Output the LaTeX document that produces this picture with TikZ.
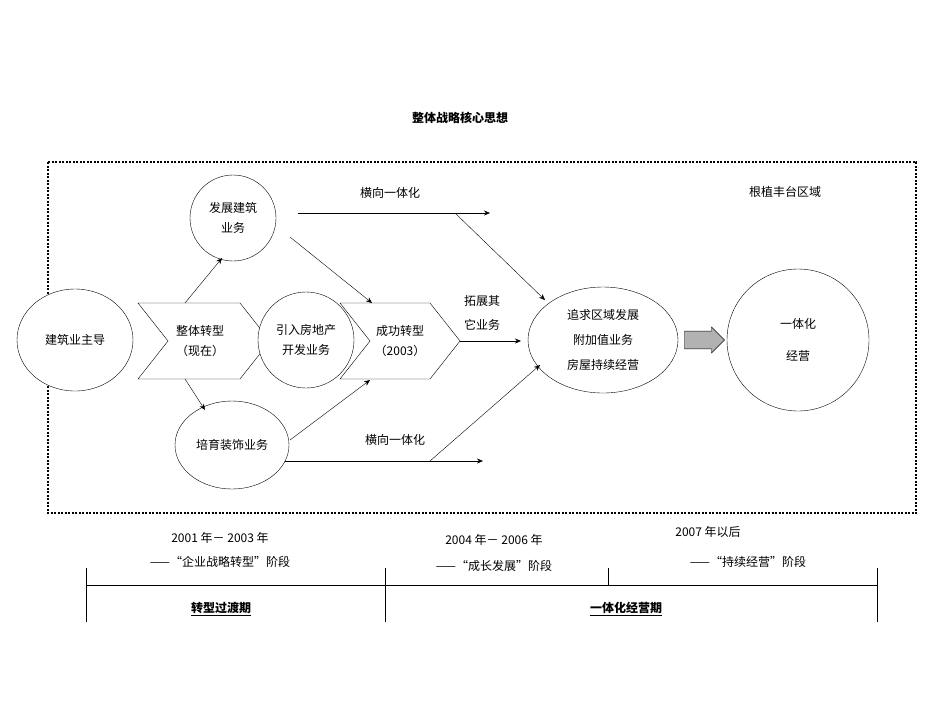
\documentclass[tikz,border=0pt]{standalone}
\usepackage{fontspec}
\setmainfont{Noto Sans CJK SC}
\usetikzlibrary{shapes.geometric,shapes.arrows,arrows.meta}
\begin{document}
\begin{tikzpicture}[x=1pt,y=-1pt,
  txt/.style={font=\fontsize{12}{20}\selectfont,align=center},
  ar/.style={-{Stealth[length=6pt,width=5pt]},thin},
  shp/.style={draw,thin,fill=white}]
\useasboundingbox (0,0) rectangle (950,713);
\node[font=\fontsize{12}{14}\selectfont\bfseries] (title) at (460,118) {整体战略核心思想};
\draw[very thick,dash pattern=on 2pt off 1.5pt] (48,162) rectangle (916,513);
\node[txt] (gen) at (785,192) {根植丰台区域};
% shapes
\node[shp,ellipse,minimum width=116,minimum height=102,inner sep=0] (jz) at (75,340) {};
\node[txt] at (jz) {建筑业主导};
\draw[shp] (138,303) -- (240,303) -- (270,341) -- (240,379) -- (138,379) -- (168,341) -- cycle;
\node[txt] (c1) at (200,341) {整体转型\\（现在）};
\node[shp,circle,minimum size=86,inner sep=0] (fz) at (233,218) {};
\node[txt] at (fz) {发展建筑\\业务};
\node[shp,circle,minimum size=96,inner sep=0] (yr) at (306,340) {};
\node[txt] at (yr) {引入房地产\\开发业务};
\draw[shp] (340,303) -- (430,303) -- (460,341) -- (430,379) -- (340,379) -- (370,341) -- cycle;
\node[txt] (c2) at (400,341) {成功转型\\（2003）};
\node[shp,ellipse,minimum width=114,minimum height=88,inner sep=0] (py) at (232,445) {};
\node[txt] at (py) {培育装饰业务};
\node[shp,ellipse,minimum width=150,minimum height=106,inner sep=0] (zq) at (603,340) {};
\node[txt,font=\fontsize{12}{25}\selectfont] at (zq) {追求区域发展\\附加值业务\\房屋持续经营};
\node[draw,fill=gray!60,single arrow,minimum height=40,minimum width=26,single arrow head extend=1pt,inner sep=2pt] (ba) at (700,340) {};
\node[shp,circle,minimum size=142,inner sep=0] (yt) at (798,340) {};
\node[txt,font=\fontsize{12}{32}\selectfont] at (yt) {一体化\\经营};
% connectors
\coordinate (a1) at (185,303); \coordinate (a2) at (222,258);
\draw[ar] (a1) -- (a2);
\coordinate (b1) at (185,379); \coordinate (b2) at (205,410);
\draw[ar] (b1) -- (b2);
\coordinate (h1) at (298,213); \coordinate (h2) at (490,213);
\draw[ar] (h1) -- (h2);
\node[txt] (hx1) at (390,193) {横向一体化};
\coordinate (d1) at (290,237); \coordinate (d2) at (372,303);
\draw[ar] (d1) -- (d2);
\coordinate (e1) at (455,213); \coordinate (e2) at (545,300);
\draw[ar] (e1) -- (e2);
\node[txt,font=\fontsize{12}{24}\selectfont] (tz) at (482,313) {拓展其\\它业务};
\coordinate (f1) at (460,341); \coordinate (f2) at (521,341);
\draw[ar] (f1) -- (f2);
\coordinate (g1) at (290,440); \coordinate (g2) at (370,380);
\draw[ar] (g1) -- (g2);
\coordinate (k1) at (285,461); \coordinate (k2) at (483,461);
\draw[ar] (k1) -- (k2);
\node[txt] (hx2) at (395,440) {横向一体化};
\coordinate (m1) at (430,461); \coordinate (m2) at (540,365);
\draw[ar] (m1) -- (m2);
% timeline
\node[txt] (t1) at (220,538) {2001 年－ 2003 年};
\node[txt] (t1b) at (220,562) {——“企业战略转型”阶段};
\node[txt] (t2) at (494,540) {2004 年－ 2006 年};
\node[txt] (t2b) at (494,566) {——“成长发展”阶段};
\node[txt] (t3) at (708,532) {2007 年以后};
\node[txt] (t3b) at (748,562) {——“持续经营”阶段};
\draw[thin] (86,585) -- (877,585);
\draw[thin] (86,568) -- (86,622);
\draw[thin] (385,568) -- (385,622);
\draw[thin] (608,568) -- (608,585);
\draw[thin] (877,568) -- (877,622);
\node[font=\fontsize{12}{14}\selectfont\bfseries] (p1) at (221,609) {\underline{转型过渡期}};
\node[font=\fontsize{12}{14}\selectfont\bfseries] (p2) at (626,609) {\underline{一体化经营期}};
\end{tikzpicture}
\end{document}
